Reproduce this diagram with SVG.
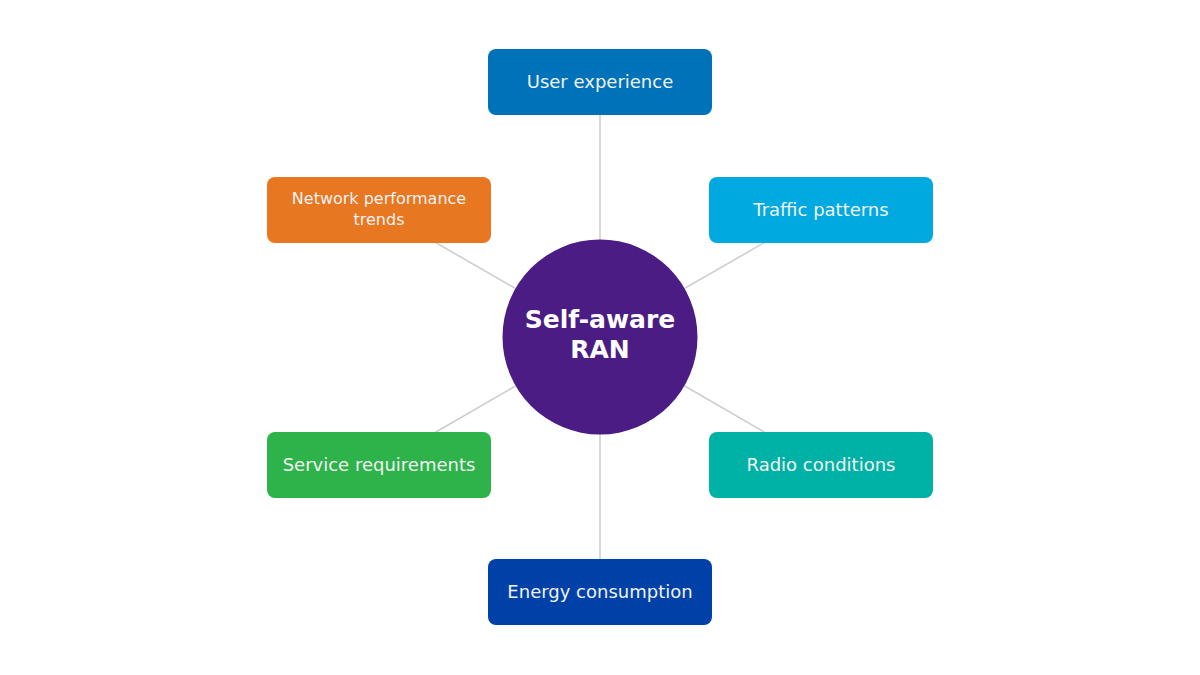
<svg xmlns="http://www.w3.org/2000/svg" width="1200" height="675" viewBox="0 0 1200 675">
<style>
.box{stroke:none}
.lbl{font-family:"DejaVu Sans",sans-serif;font-size:18px;fill:#f2f2f2;text-anchor:middle}
.sm{font-size:16px}
.title{font-family:"DejaVu Sans",sans-serif;font-weight:bold;font-size:25px;fill:#ffffff;text-anchor:middle}
.conn line{stroke:#cccccc;stroke-width:1.5}
</style>
<rect width="1200" height="675" fill="#ffffff"/>
<g class="conn">
<line x1="600" y1="337" x2="600" y2="82"/>
<line x1="600" y1="337" x2="379" y2="210"/>
<line x1="600" y1="337" x2="821" y2="210"/>
<line x1="600" y1="337" x2="379" y2="465"/>
<line x1="600" y1="337" x2="821" y2="465"/>
<line x1="600" y1="337" x2="600" y2="592"/>
</g>
<g id="user-experience">
<rect class="box" x="488" y="49" width="224" height="66" rx="8" fill="#0072B9"/>
<text class="lbl" x="600" y="88">User experience</text>
</g>
<g id="network-performance">
<rect class="box" x="267" y="177" width="224" height="66" rx="8" fill="#E87722"/>
<text class="lbl sm" x="379" y="204">Network performance</text>
<text class="lbl sm" x="379" y="225">trends</text>
</g>
<g id="traffic-patterns">
<rect class="box" x="709" y="177" width="224" height="66" rx="8" fill="#00A9E0"/>
<text class="lbl" x="821" y="216">Traffic patterns</text>
</g>
<g id="service-requirements">
<rect class="box" x="267" y="432" width="224" height="66" rx="8" fill="#2DB34A"/>
<text class="lbl" x="379" y="471">Service requirements</text>
</g>
<g id="radio-conditions">
<rect class="box" x="709" y="432" width="224" height="66" rx="8" fill="#00B2A5"/>
<text class="lbl" x="821" y="471">Radio conditions</text>
</g>
<g id="energy-consumption">
<rect class="box" x="488" y="559" width="224" height="66" rx="8" fill="#0041A8"/>
<text class="lbl" x="600" y="598">Energy consumption</text>
</g>
<g id="self-aware-ran">
<circle cx="600" cy="337" r="97.5" fill="#4B1D84"/>
<text class="title" x="600" y="328">Self-aware</text>
<text class="title" x="600" y="358">RAN</text>
</g>
</svg>
